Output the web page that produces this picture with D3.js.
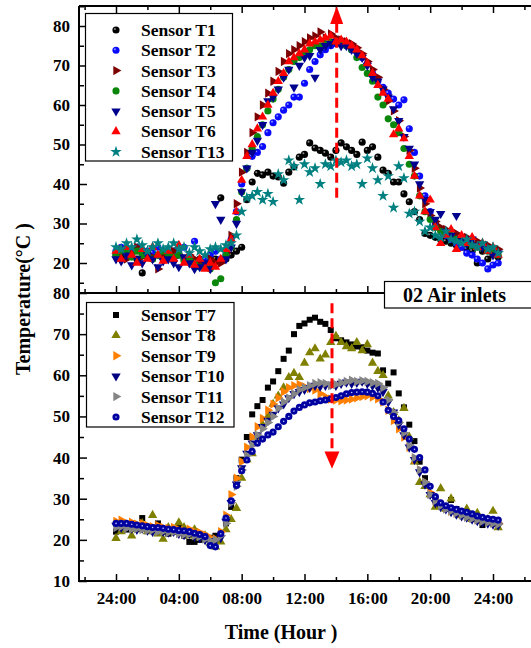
<!DOCTYPE html>
<html><head><meta charset="utf-8">
<script src="https://cdn.jsdelivr.net/npm/d3@7"></script>
<style>body{margin:0;background:#fff}svg{display:block}</style>
</head><body>
<script>
// ---------- DATA ----------
const hours = [0,0.33,0.67,1,1.33,1.67,2,2.33,2.67,3,3.33,3.67,4,4.33,4.67,5,5.33,5.67,6,6.33,6.67,7,7.33,7.67,8,8.33,8.67,9,9.33,9.67,10,10.33,10.67,11,11.33,11.67,12,12.33,12.67,13,13.33,13.67,14,14.33,14.67,15,15.33,15.67,16,16.33,16.67,17,17.33,17.67,18,18.33,18.67,19,19.33,19.67,20,20.33,20.67,21,21.33,21.67,22,22.33,22.67,23,23.33,23.67,24,24.33];
const xTickHours = [0,4,8,12,16,20,24];
const xTickLabels = ["24:00","04:00","08:00","12:00","16:00","20:00","24:00"];
const xMinorHours = [-2,2,6,10,14,18,22,26];
const topYTicks = [20,30,40,50,60,70,80];
const topYMinor = [15,25,35,45,55,65,75,85];
const botYTicks = [10,20,30,40,50,60,70,80];
const botYMinor = [15,25,35,45,55,65,75];

const T1 = [22,21.5,23,22,21,17.5,22.5,21,22,21.5,
 22,21,22.5,21,20.5,20,21,19.5,20,21,
 36.5,21,22,23,24,36,40.5,42.7,42.3,43,
 42,41.8,40.2,43,44.3,46.8,47.5,50.4,49.1,48.5,
 47.8,46.8,48.5,50.4,49.4,48.5,47.5,50.6,48.5,49.4,
 46.8,43.5,42.7,40.5,40.5,37.5,35.5,33,31,27.5,
 27,26.5,26,25.5,25,24.5,24,23.5,23,20,
 23,21,22,21.5];
const T2 = [23,24,22.5,23.5,24,22,23,22.5,24,23,
 22,23,22,24,21,25.5,20,21,22,23,
 21,22,26,33,40,44,47,48,49.5,53,
 55.5,57,58.7,60,62,62,65.5,69,71,72.7,
 74,75,75.5,75.5,75,74,73.5,72,70.5,68,
 66,64.5,63,61.5,60,61.3,54,48,42,37,
 33,30,28.5,27,26,25,24,22.5,22,21,
 20,18.5,19.5,20];
const T3 = [22,23.5,21,22.5,24,21.5,22,21.5,18.5,22,
 21,23,22,20.5,22,21,20,19.5,21,20,
 20,22.5,27,35,43,48,53,57,60,63,
 66,68.5,71,73,74,75,76,77,77.5,78.5,
 77,78,77,76.5,76,75.5,74.5,73,71,69,
 67,64,61,58.5,56,52,48.5,44,39,35,
 32,30.5,29,28.5,27,27.5,26,26.5,25,25.5,
 24,24.5,23,23.5];
const T4 = [22,23,22.5,21.5,23,22,22.5,21,22,23,
 22,21.5,22,20.5,21,20,19,19.5,18.5,15,
 16,22,24,31,38,44,49,52,55,58.5,
 61.5,64,67,69,71,72,73,74,75,75,
 75.5,76,76,75.5,75,74,72,69.5,68,66,
 62,60,56.5,55,53,49,45,42,37,33,
 31,29,28,27.5,27,26,25.5,25,24.5,24,
 24,23,23.5,22];
const T5 = [21,20.5,22,19.5,21,20,22,21,19,20.5,
 21,20,19,21.5,20,18.5,19,20,18.5,35,
 31,21,24,30,38,44,48,51,55,61,
 62,64,67,69,64.5,70,72,72.5,67,74,
 75,75.5,76,75,75,74,73,72,70,67,
 66,64,62,59,56,52,49,45,40,36,
 33,31,32.5,28,27,32,26,25,26,24.5,
 24,23.5,22,22.5];
const T6 = [23,21,24,22,20,23.5,21,24,22,20.5,
 23,21,24.5,20,22,19.5,21,18.5,20,19,
 21,23.5,26,33,41,47,50,54,57,60,
 63,66,68,71,72,73,74,75.5,76,76.5,
 77,77.5,76,76.5,76,75,74,72.5,70.5,68,
 65,63,61.5,52.5,54,51.5,47,42,37,33,
 36,29,25,27,28.5,23.5,27,25,26.5,24,
 25,23,24,22];
const T13 = [24,23.5,25,24,26,24.5,23,24,25,23.5,
 24,25,23.5,24,22.5,24,23,22,23.5,24,
 23.5,24.5,25,27,33,36.5,37,38,36,37.5,
 35.5,42.5,41,46,44.5,36,45,43,44,40,
 45,44.5,46,45.5,46,44.5,45,40,46.5,44,
 41,37,42,34,44.5,41.5,32.5,33,30.5,28,
 29,27,26.5,28,26,25.5,25,26,24.5,24,
 25,23.5,24,22.5];

const T7 = [22,23.5,22.5,24,23,25.3,22.5,23,24,22,
 21.5,22,23,21,19.5,19.5,20,21,20.5,21,
 21.5,24,28,35,39.5,45,50.5,52.5,54,57,
 58.5,61,64,66,70,72,72.6,73.5,74,73,
 72.5,71,69,68.5,68,67.5,67,66.8,66,65.5,
 65.3,61.2,58,60.7,55.6,52.2,48,44,39,35,
 31,30,28.5,28,29.7,27.5,26.5,25.5,26,25,
 23.6,24.5,24,24.5];
const T8 = [20.4,22,23.5,21,22.5,24,22,26,21.5,20.2,
 23,22,24.2,23,21,22.5,20.5,21,19.2,18.3,
 19.5,22.5,25,27.7,35,39.5,41,45,48,50,
 53,55,57,59.5,60.5,59.5,63,65.5,66.5,64,
 65,68,69.5,68,67,66.5,68,66,67.5,63,
 61,60,55,51,49,52,45,39,34,33,
 31,28,32.5,27.5,30,27,26,27.5,25,26.5,
 24.5,25,27,23];
const T9 = [24.5,24.8,24,24.3,23.8,24,23.5,23.2,23.5,23,
 22.8,23,22.5,22.3,22.6,22,21.8,21.2,20.5,20.2,
 22,26,31,35,39,42.5,45,47.5,49.5,51.5,
 53,54.5,56,57,57.5,57.8,57.2,56.8,56.4,55.5,
 54.8,54.2,54,53.8,54,54.2,54.5,54.8,55,54.7,
 54.3,53.5,51.5,49,47,45,42.5,39.5,37,34,
 31.5,29.5,28.5,27.8,27,26.5,26.2,25.8,25.5,25,
 24.8,24.5,24.3,24];
const T10 = [23.5,23,23.3,22.8,22.5,22.8,22.3,22,22.4,22,
 21.8,22,21.5,21.2,21.5,20.8,20.5,20,19.5,19.8,
 20.5,24.5,29,33.5,37.5,41,43.5,45.5,47.5,49,
 50.5,52,53,54.5,55.5,56,56.5,57,57.5,57.3,
 57.5,57.8,57.5,58,58.3,58,58.2,58.5,58,57.5,
 57,56,53.5,51,48,45.5,42.5,39.5,36.5,33.5,
 31,29,28,27.5,26.8,26.2,25.8,25.5,25,24.6,
 24.3,24,23.8,23.5];
const T11 = [23,23.2,22.8,22.6,22.7,22.5,22.3,22.4,22,22.1,
 21.8,21.9,21.5,21.3,21.4,21,20.8,20.2,19.8,20,
 21,24,29,33,37,40.5,43,45.5,47,48.5,
 50,52,53.5,54.5,55.5,56.5,57,57.5,58,58.2,
 58,57.5,57.8,58.2,58.5,58.8,58.5,58.7,58.5,58.2,
 58,57,54,51,48.5,46,43,40,37,34,
 31,29.5,28.3,27.5,27,26.5,26,25.5,25.2,24.8,
 24.5,24.2,24,23.8];
const T12 = [24,24,24,23.8,23.6,23.4,23.2,23,23,22.8,
 22.6,22.5,22.3,22.2,22,21.6,21.3,20.8,18.6,18.3,
 21.5,25.3,29.5,33.2,36.8,39.4,41.5,43.5,44.5,45.5,
 46.2,47.5,48.8,50,51.3,52.2,52.8,53.3,53.5,53.8,
 54,54.3,54.6,55,55.5,55.8,55.9,56,55.9,55.6,
 55,53.5,51.5,50,49,47,44.5,42,40,37,
 33,30.5,29,28.3,27.8,27.4,27,26.7,26.3,25.8,
 25.5,25.2,25,24.8];

const topNames = ["Sensor T1","Sensor T2","Sensor T3","Sensor T4","Sensor T5","Sensor T6","Sensor T13"];
const botNames = ["Sensor T7","Sensor T8","Sensor T9","Sensor T10","Sensor T11","Sensor T12"];

// ---------- STYLE ----------
const topSeries = [
  {name: topNames[0], values: T1, shape: "circle", color: "#000000", hi: "#8a8a8a"},
  {name: topNames[1], values: T2, shape: "circle", color: "#0a0aff", hi: "#8c90ff"},
  {name: topNames[2], values: T3, shape: "right", color: "#7d0000"},
  {name: topNames[3], values: T4, shape: "circle", color: "#0a870a"},
  {name: topNames[4], values: T5, shape: "down", color: "#00008e"},
  {name: topNames[5], values: T6, shape: "up", color: "#ff0000"},
  {name: topNames[6], values: T13, shape: "star", color: "#008080"}
];
const botSeries = [
  {name: botNames[0], values: T7, shape: "square", color: "#000000"},
  {name: botNames[1], values: T8, shape: "up", color: "#808000"},
  {name: botNames[2], values: T9, shape: "right", color: "#ff8000"},
  {name: botNames[3], values: T10, shape: "down", color: "#000080"},
  {name: botNames[4], values: T11, shape: "right", color: "#858585"},
  {name: botNames[5], values: T12, shape: "circle", color: "#0000a0", dot: "#b8c0ff"}
];

const W = 531, H = 648;
const FONT = "'Liberation Serif','Times New Roman',Times,serif";
const svg = d3.select("body").append("svg").attr("width", W).attr("height", H)
  .style("font-family", FONT).style("font-weight", "bold");

const xLeft = 79, xRight = 545;
const x = d3.scaleLinear().domain([0, 24]).range([116, 493]);
const yTop = d3.scaleLinear().domain([20, 80]).range([263, 26]);
const yBot = d3.scaleLinear().domain([10, 80]).range([581, 293]);
const topY0 = 6, midY = 293, botY1 = 581;

const shapes = {
  circle: {type: d3.symbolCircle, size: 40, rot: 0},
  square: {type: d3.symbolSquare, size: 36, rot: 0},
  up: {type: d3.symbolTriangle, size: 38, rot: 0},
  down: {type: d3.symbolTriangle, size: 38, rot: 180},
  right: {type: d3.symbolTriangle, size: 38, rot: 90},
  star: {type: d3.symbolStar, size: 42, rot: 0}
};

function drawMarkers(g, s, pts) {
  const sh = shapes[s.shape];
  const gen = d3.symbol().type(sh.type).size(sh.size);
  g.selectAll(null).data(pts).join("path")
    .attr("d", gen())
    .attr("transform", d => `translate(${d[0]},${d[1]}) rotate(${sh.rot})`)
    .attr("fill", s.color);
  if (s.hi) {
    g.selectAll(null).data(pts).join("circle")
      .attr("cx", d => d[0] - 1.1).attr("cy", d => d[1] - 1.1).attr("r", 1)
      .attr("fill", s.hi);
  }
  if (s.dot) {
    g.selectAll(null).data(pts).join("circle")
      .attr("cx", d => d[0]).attr("cy", d => d[1]).attr("r", 0.8)
      .attr("fill", s.dot);
  }
}

// ---------- Data marks ----------
const gTopData = svg.append("g");
topSeries.forEach(s => {
  const pts = s.values.map((v, i) => [x(hours[i]), yTop(v)]);
  drawMarkers(gTopData.append("g"), s, pts);
});
const gBotData = svg.append("g");
botSeries.forEach(s => {
  const pts = s.values.map((v, i) => [x(hours[i]), yBot(v)]);
  drawMarkers(gBotData.append("g"), s, pts);
});

// ---------- Axes ----------
function styleAxis(g) {
  g.select(".domain").remove();
  g.selectAll(".tick line").attr("stroke", "#000").attr("stroke-width", 1.5);
  g.selectAll("text").attr("font-family", FONT).attr("font-weight", "bold")
    .attr("font-size", 17).attr("fill", "#000");
}
svg.append("g").attr("transform", `translate(${xLeft},0)`)
  .call(d3.axisLeft(yTop).tickValues(topYTicks).tickSizeInner(-8).tickSizeOuter(0).tickPadding(9))
  .call(styleAxis);
svg.append("g").attr("transform", `translate(${xLeft},0)`)
  .call(d3.axisLeft(yTop).tickValues(topYMinor).tickSizeInner(-5).tickSizeOuter(0).tickFormat(""))
  .call(styleAxis);
svg.append("g").attr("transform", `translate(${xLeft},0)`)
  .call(d3.axisLeft(yBot).tickValues(botYTicks).tickSizeInner(-8).tickSizeOuter(0).tickPadding(9))
  .call(styleAxis);
svg.append("g").attr("transform", `translate(${xLeft},0)`)
  .call(d3.axisLeft(yBot).tickValues(botYMinor).tickSizeInner(-5).tickSizeOuter(0).tickFormat(""))
  .call(styleAxis);

svg.append("g").attr("transform", `translate(0,${botY1})`)
  .call(d3.axisBottom(x).tickValues(xTickHours).tickSizeInner(-7).tickSizeOuter(0).tickPadding(11)
    .tickFormat((d, i) => xTickLabels[i]))
  .call(styleAxis);
svg.append("g").attr("transform", `translate(0,${botY1})`)
  .call(d3.axisBottom(x).tickValues(xMinorHours).tickSizeInner(-4).tickSizeOuter(0).tickFormat(""))
  .call(styleAxis);
svg.append("g").attr("transform", `translate(0,${midY})`)
  .call(d3.axisBottom(x).tickValues(xTickHours).tickSizeInner(-7).tickSizeOuter(0).tickFormat(""))
  .call(styleAxis);
svg.append("g").attr("transform", `translate(0,${midY})`)
  .call(d3.axisBottom(x).tickValues(xMinorHours).tickSizeInner(-4).tickSizeOuter(0).tickFormat(""))
  .call(styleAxis);
svg.append("g").attr("transform", `translate(0,${topY0})`)
  .call(d3.axisTop(x).tickValues(xTickHours).tickSizeInner(-7).tickSizeOuter(0).tickFormat(""))
  .call(styleAxis);
svg.append("g").attr("transform", `translate(0,${topY0})`)
  .call(d3.axisTop(x).tickValues(xMinorHours).tickSizeInner(-4).tickSizeOuter(0).tickFormat(""))
  .call(styleAxis);

const frame = svg.append("g").attr("stroke", "#000").attr("stroke-width", 2);
frame.append("line").attr("x1", xLeft).attr("x2", xLeft).attr("y1", topY0).attr("y2", botY1 + 1);
frame.append("line").attr("x1", xLeft).attr("x2", xRight).attr("y1", topY0).attr("y2", topY0);
frame.append("line").attr("x1", xLeft).attr("x2", xRight).attr("y1", midY).attr("y2", midY);
frame.append("line").attr("x1", xLeft - 1).attr("x2", xRight).attr("y1", botY1).attr("y2", botY1);

// ---------- Red dashed arrows ----------
function arrow(xh, yScale, vFrom, vTo, vTip, halfW) {
  const g = svg.append("g");
  const xp = x(xh);
  g.append("line").attr("x1", xp).attr("x2", xp).attr("y1", yScale(vFrom)).attr("y2", yScale(vTo))
    .attr("stroke", "#ff0000").attr("stroke-width", 3).attr("stroke-dasharray", "10,5");
  const yb = yScale(vTo), yt = yScale(vTip);
  g.append("path").attr("d", `M${xp - halfW},${yb}L${xp + halfW},${yb}L${xp},${yt}Z`).attr("fill", "#ff0000");
}
arrow(14.05, yTop, 36.5, 80.5, 85, 6.5);
arrow(13.75, yBot, 77.5, 41.5, 37.3, 7.5);

// ---------- Legends ----------
function legend(series, bx, by, bw, bh, row0, step) {
  const g = svg.append("g");
  g.append("rect").attr("x", bx).attr("y", by).attr("width", bw).attr("height", bh)
    .attr("fill", "#fff").attr("stroke", "#000").attr("stroke-width", 1.2);
  series.forEach((s, i) => {
    const yy = row0 + i * step;
    drawMarkers(g.append("g"), s, [[116, yy]]);
    g.append("text").attr("x", 141).attr("y", yy).attr("dy", "0.34em")
      .attr("font-size", 17.5).attr("fill", "#000").text(s.name);
  });
}
legend(topSeries, 85.5, 13.5, 147, 147.5, 30, 20.3);
legend(botSeries, 86.5, 302.5, 147.5, 124.5, 315, 20.4);

// ---------- Inlet box ----------
svg.append("rect").attr("x", 384.5).attr("y", 281.5).attr("width", 160).attr("height", 26.5)
  .attr("fill", "#fff").attr("stroke", "#000").attr("stroke-width", 1.2);
svg.append("text").attr("x", 403).attr("y", 302).attr("font-size", 20).attr("fill", "#000").text("02 Air inlets");

// ---------- Axis titles ----------
svg.append("text").attr("transform", "translate(30,299) rotate(-90)").attr("text-anchor", "middle")
  .attr("font-size", 20).attr("fill", "#000").text("Temperature(°C )");
svg.append("text").attr("x", 281).attr("y", 639).attr("text-anchor", "middle")
  .attr("font-size", 20).attr("fill", "#000").text("Time (Hour )");
</script>
</body></html>
